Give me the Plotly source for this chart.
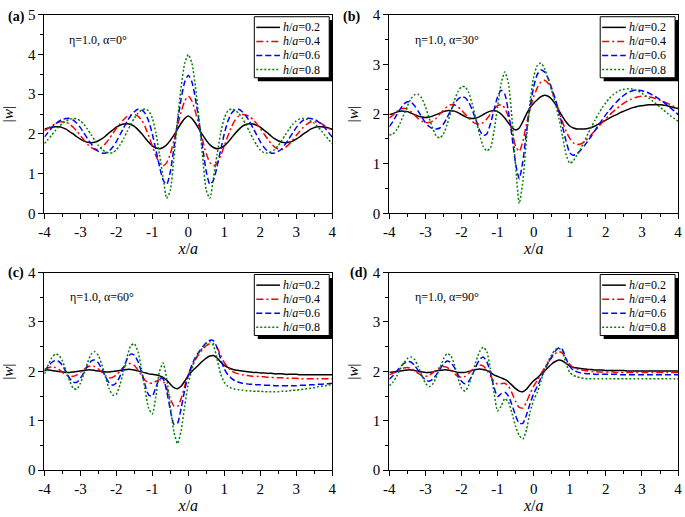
import plotly.graph_objects as go

W, H = 685, 517
FONT = "Liberation Serif, Times New Roman, serif"

# x sample positions (step 0.1 from -4 to 4)
x_vals = [round(-4 + 0.1 * i, 1) for i in range(81)]

series_names = ["<i>h</i>/<i>a</i>=0.2", "<i>h</i>/<i>a</i>=0.4",
                "<i>h</i>/<i>a</i>=0.6", "<i>h</i>/<i>a</i>=0.8"]
panel_labels = ["(a)", "(b)", "(c)", "(d)"]
panel_params = ["η=1.0, α=0°", "η=1.0, α=30°", "η=1.0, α=60°", "η=1.0, α=90°"]
y_max = [5, 4, 4, 4]
x_tickvals = [-4, -3, -2, -1, 0, 1, 2, 3, 4]
x_ticktext = ["-4", "-3", "-2", "-1", "0", "1", "2", "3", "4"]

# ---------------- panel (a): alpha = 0 ----------------
a_h02 = [2.12,2.15,2.17,2.18,2.18,2.16,2.12,2.06,2.00,1.93,1.87,1.82,1.79,1.78,1.79,1.83,1.88,1.95,2.03,2.10,
         2.17,2.22,2.25,2.26,2.24,2.19,2.11,2.01,1.90,1.79,1.70,1.65,1.63,1.66,1.73,1.84,1.97,2.12,2.27,2.39,
         2.45,
         2.39,2.27,2.12,1.97,1.84,1.73,1.66,1.63,1.65,1.70,1.79,1.90,2.01,2.11,2.19,2.24,2.26,2.25,2.22,2.17,
         2.10,2.03,1.95,1.88,1.83,1.79,1.78,1.79,1.82,1.87,1.93,2.00,2.06,2.12,2.16,2.18,2.18,2.17,2.15,2.12]
a_h04 = [2.08,2.14,2.20,2.26,2.30,2.31,2.30,2.25,2.17,2.07,1.96,1.85,1.74,1.66,1.61,1.62,1.67,1.76,1.88,2.01,
         2.14,2.26,2.36,2.44,2.48,2.49,2.45,2.35,2.18,1.95,1.70,1.45,1.27,1.20,1.28,1.50,1.84,2.20,2.55,2.83,
         2.95,
         2.83,2.55,2.20,1.84,1.50,1.28,1.20,1.27,1.45,1.70,1.95,2.18,2.35,2.45,2.49,2.48,2.44,2.36,2.26,2.14,
         2.01,1.88,1.76,1.67,1.62,1.61,1.66,1.74,1.85,1.96,2.07,2.17,2.25,2.30,2.31,2.30,2.26,2.20,2.14,2.08]
a_h06 = [1.92,2.04,2.15,2.25,2.32,2.37,2.39,2.39,2.35,2.27,2.16,2.02,1.88,1.75,1.63,1.56,1.52,1.52,1.57,1.67,
         1.81,1.98,2.15,2.32,2.46,2.56,2.62,2.61,2.52,2.32,2.00,1.60,1.18,0.84,0.73,1.05,1.65,2.30,2.88,3.31,
         3.48,
         3.31,2.88,2.30,1.65,1.05,0.73,0.84,1.18,1.60,2.00,2.32,2.52,2.61,2.62,2.56,2.46,2.32,2.15,1.98,1.81,
         1.67,1.57,1.52,1.52,1.56,1.63,1.75,1.88,2.02,2.16,2.27,2.35,2.39,2.39,2.37,2.32,2.25,2.15,2.04,1.92]
a_h08 = [1.76,1.86,1.97,2.08,2.18,2.27,2.33,2.37,2.39,2.38,2.33,2.24,2.12,1.98,1.84,1.71,1.61,1.55,1.52,1.53,
         1.60,1.72,1.88,2.06,2.24,2.40,2.52,2.60,2.63,2.58,2.40,2.02,1.48,0.90,0.38,0.58,1.40,2.35,3.18,3.78,
         4.00,
         3.78,3.18,2.35,1.40,0.58,0.38,0.90,1.48,2.02,2.40,2.58,2.63,2.60,2.52,2.40,2.24,2.06,1.88,1.72,1.60,
         1.53,1.52,1.55,1.61,1.71,1.84,1.98,2.12,2.24,2.33,2.38,2.39,2.37,2.33,2.27,2.18,2.08,1.97,1.86,1.76]

# ---------------- panel (b): alpha = 30 ----------------
b_h02 = [1.99,2.01,2.04,2.06,2.06,2.05,2.02,1.99,1.96,1.94,
         1.93,1.94,1.96,1.99,2.02,2.05,2.07,2.07,2.06,2.03,
         1.99,1.95,1.92,1.91,1.92,1.95,1.99,2.03,2.06,2.07,
         2.05,2.00,1.92,1.82,1.73,1.68,1.72,1.85,2.00,2.13,
         2.22,2.29,2.35,2.38,2.36,2.30,2.20,2.07,1.95,1.84,
         1.76,1.72,1.70,1.70,1.70,1.71,1.73,1.76,1.80,1.84,
         1.88,1.92,1.96,1.99,2.03,2.06,2.09,2.12,2.14,2.16,
         2.17,2.18,2.19,2.19,2.19,2.19,2.18,2.17,2.15,2.13,
         2.11]
b_h04 = [1.92,1.98,2.05,2.10,2.12,2.10,2.05,1.98,1.91,1.86,
         1.83,1.83,1.86,1.92,2.00,2.08,2.15,2.19,2.19,2.15,
         2.08,2.00,1.92,1.85,1.81,1.80,1.83,1.90,2.00,2.10,
         2.17,2.19,2.12,1.94,1.65,1.35,1.25,1.45,1.80,2.10,
         2.35,2.53,2.65,2.68,2.62,2.48,2.28,2.06,1.84,1.65,
         1.51,1.42,1.39,1.40,1.44,1.51,1.59,1.67,1.75,1.83,
         1.91,1.98,2.05,2.11,2.17,2.22,2.27,2.30,2.33,2.35,
         2.36,2.36,2.35,2.33,2.31,2.28,2.25,2.22,2.19,2.15,
         2.12]
b_h06 = [1.75,1.85,1.98,2.10,2.20,2.25,2.24,2.17,2.06,1.94,
         1.83,1.75,1.71,1.70,1.72,1.80,1.93,2.07,2.20,2.30,
         2.35,2.33,2.24,2.08,1.88,1.68,1.57,1.60,1.80,2.08,
         2.35,2.48,2.40,2.05,1.55,1.00,0.70,1.05,1.65,2.15,
         2.55,2.80,2.89,2.85,2.72,2.52,2.30,2.05,1.75,1.45,
         1.22,1.17,1.20,1.27,1.36,1.46,1.56,1.67,1.78,1.89,
         1.99,2.08,2.17,2.25,2.32,2.38,2.43,2.46,2.48,2.48,
         2.47,2.45,2.42,2.38,2.34,2.29,2.24,2.18,2.12,2.06,
         1.99]
b_h08 = [1.58,1.60,1.68,1.82,1.99,2.16,2.31,2.39,2.40,2.32,
         2.15,1.93,1.72,1.56,1.52,1.60,1.79,2.03,2.27,2.45,
         2.55,2.55,2.43,2.20,1.90,1.59,1.35,1.26,1.32,1.65,
         2.15,2.62,2.85,2.62,1.90,0.95,0.20,0.65,1.50,2.25,
         2.75,2.98,3.03,2.92,2.72,2.48,2.22,1.92,1.55,1.18,
         1.01,1.06,1.18,1.30,1.45,1.60,1.74,1.88,2.01,2.13,
         2.23,2.32,2.39,2.44,2.48,2.50,2.51,2.51,2.49,2.46,
         2.42,2.37,2.32,2.26,2.20,2.14,2.08,2.02,1.96,1.91,
         1.86]

# ---------------- panel (c): alpha = 60 ----------------
c_h02 = [2.03,2.03,2.02,2.01,2.00,1.99,1.98,1.98,1.99,2.00,
         2.01,2.02,2.03,2.03,2.02,2.01,2.00,1.99,1.99,2.00,
         2.01,2.02,2.03,2.04,2.04,2.03,2.01,1.99,1.97,1.95,
         1.94,1.93,1.91,1.88,1.82,1.74,1.67,1.65,1.70,1.80,
         1.92,2.00,2.07,2.14,2.21,2.27,2.31,2.32,2.27,2.19,
         2.12,2.08,2.05,2.03,2.02,2.01,2.00,1.99,1.98,1.98,
         1.97,1.97,1.96,1.96,1.95,1.95,1.95,1.94,1.94,1.94,
         1.94,1.93,1.93,1.93,1.93,1.93,1.93,1.93,1.93,1.93,
         1.93]
c_h04 = [2.04,2.07,2.09,2.08,2.04,1.98,1.93,1.90,1.90,1.93,
         1.98,2.04,2.09,2.11,2.10,2.05,1.98,1.91,1.87,1.88,
         1.93,2.01,2.09,2.15,2.16,2.12,2.03,1.92,1.82,1.77,
         1.76,1.80,1.83,1.80,1.66,1.45,1.30,1.29,1.45,1.70,
         1.93,2.10,2.24,2.35,2.45,2.52,2.56,2.56,2.48,2.33,
         2.18,2.08,2.01,1.97,1.95,1.93,1.92,1.91,1.90,1.90,
         1.89,1.89,1.88,1.88,1.87,1.87,1.87,1.86,1.86,1.86,
         1.86,1.85,1.85,1.85,1.85,1.85,1.85,1.85,1.85,1.85,
         1.85]
c_h06 = [2.00,2.10,2.18,2.22,2.20,2.12,1.99,1.86,1.78,1.78,
         1.86,1.98,2.11,2.21,2.23,2.17,2.04,1.89,1.77,1.72,
         1.77,1.90,2.08,2.25,2.35,2.33,2.20,1.98,1.72,1.52,
         1.50,1.68,1.86,1.85,1.60,1.22,0.93,0.95,1.25,1.62,
         1.92,2.13,2.29,2.40,2.50,2.58,2.63,2.62,2.48,2.25,
         2.05,1.93,1.86,1.81,1.78,1.76,1.75,1.74,1.74,1.73,
         1.73,1.72,1.72,1.72,1.71,1.71,1.71,1.71,1.71,1.71,
         1.71,1.72,1.72,1.72,1.73,1.73,1.74,1.74,1.75,1.75,
         1.76]
c_h08 = [1.95,2.12,2.27,2.35,2.33,2.21,2.02,1.81,1.66,1.64,
         1.76,1.96,2.18,2.35,2.40,2.32,2.13,1.88,1.65,1.52,
         1.54,1.73,2.00,2.30,2.52,2.56,2.40,2.05,1.62,1.25,
         1.14,1.50,2.00,2.17,1.85,1.30,0.78,0.54,0.80,1.30,
         1.75,2.05,2.25,2.38,2.48,2.57,2.60,2.52,2.25,1.95,
         1.78,1.70,1.66,1.64,1.63,1.62,1.61,1.61,1.60,1.60,
         1.60,1.59,1.59,1.59,1.59,1.59,1.60,1.60,1.61,1.62,
         1.62,1.63,1.64,1.65,1.66,1.67,1.69,1.70,1.71,1.72,
         1.74]

# ---------------- panel (d): alpha = 90 ----------------
d_h02 = [1.98,1.99,2.00,2.01,2.02,2.03,2.03,2.02,2.00,1.99,
         1.98,1.98,1.99,2.01,2.02,2.03,2.03,2.02,2.00,1.98,
         1.98,1.98,2.00,2.02,2.04,2.05,2.04,2.02,1.98,1.93,
         1.90,1.87,1.84,1.79,1.72,1.65,1.60,1.59,1.64,1.73,
         1.81,1.87,1.94,2.01,2.08,2.15,2.20,2.23,2.21,2.16,
         2.11,2.08,2.07,2.06,2.05,2.04,2.04,2.03,2.03,2.03,
         2.02,2.02,2.02,2.02,2.02,2.02,2.01,2.01,2.01,2.01,
         2.01,2.01,2.01,2.01,2.01,2.01,2.01,2.01,2.01,2.01,
         2.01]
d_h04 = [1.93,1.96,2.00,2.04,2.07,2.08,2.06,2.01,1.96,1.92,
         1.90,1.92,1.97,2.03,2.08,2.10,2.08,2.03,1.96,1.90,
         1.88,1.90,1.96,2.04,2.10,2.13,2.11,2.03,1.91,1.80,
         1.74,1.75,1.76,1.70,1.56,1.39,1.27,1.26,1.38,1.55,
         1.70,1.82,1.95,2.07,2.18,2.28,2.36,2.40,2.37,2.25,
         2.14,2.08,2.05,2.03,2.02,2.01,2.00,2.00,1.99,1.99,
         1.99,1.99,1.99,1.98,1.98,1.98,1.98,1.98,1.98,1.98,
         1.98,1.98,1.98,1.98,1.98,1.98,1.98,1.98,1.98,1.98,
         1.98]
d_h06 = [1.84,1.91,2.00,2.09,2.16,2.20,2.19,2.12,2.02,1.91,
         1.83,1.80,1.84,1.93,2.04,2.15,2.21,2.18,2.08,1.94,
         1.80,1.75,1.80,1.93,2.10,2.24,2.29,2.20,1.98,1.68,
         1.49,1.55,1.58,1.50,1.32,1.10,0.95,0.95,1.12,1.35,
         1.55,1.70,1.86,2.02,2.17,2.30,2.41,2.48,2.44,2.25,
         2.10,2.02,1.99,1.97,1.96,1.95,1.95,1.94,1.94,1.94,
         1.94,1.94,1.94,1.94,1.93,1.93,1.93,1.93,1.93,1.93,
         1.93,1.93,1.93,1.93,1.93,1.93,1.93,1.93,1.93,1.93,
         1.93]
d_h08 = [1.71,1.78,1.90,2.04,2.17,2.26,2.29,2.24,2.10,1.92,
         1.76,1.69,1.74,1.88,2.07,2.25,2.36,2.32,2.14,1.88,
         1.66,1.60,1.72,1.95,2.20,2.40,2.49,2.40,2.05,1.58,
         1.20,1.30,1.45,1.38,1.15,0.88,0.70,0.63,0.82,1.18,
         1.42,1.58,1.80,2.03,2.20,2.34,2.44,2.47,2.38,2.15,
         1.98,1.92,1.89,1.87,1.86,1.85,1.85,1.85,1.85,1.85,
         1.85,1.85,1.85,1.85,1.85,1.85,1.85,1.85,1.85,1.85,
         1.85,1.85,1.85,1.85,1.85,1.85,1.85,1.85,1.85,1.85,
         1.85]

panels = [
    [a_h02, a_h04, a_h06, a_h08],
    [b_h02, b_h04, b_h06, b_h08],
    [c_h02, c_h04, c_h06, c_h08],
    [d_h02, d_h04, d_h06, d_h08],
]

# ---------------- styling ----------------
line_colors = ["#000000", "#FF0000", "#0000FF", "#008000"]
line_dashes = ["solid", "7px,3px,2px,3px", "6px,3px", "2px,2px"]

# plot area boxes in pixels: (left, top, right, bottom)
boxes = [(39, 7, 331, 212), (389, 7, 682, 212),
         (39, 273, 331, 477), (389, 273, 682, 477)]
label_pos = [(0, 9), (340, 9), (0, 273), (347, 273)]
param_pos = [(62, 33), (413, 33), (63, 298), (413, 298)]

# legend box geometry (pixels, relative to the plot area's top-right corner)
LEG_RIGHT_GAP, LEG_TOP_GAP, LEG_W, LEG_H = 3, 2, 76, 63
LEG_ROW0, LEG_ROW_STEP = 11, 14.5
LEG_LINE_X0, LEG_LINE_X1, LEG_TEXT_X = 2, 26, 29
SHADOW = 3.5


def px_x(px):
    return px / W


def px_y(py):
    return 1 - py / H


fig = go.Figure()
layout = dict(
    width=W, height=H,
    margin=dict(l=0, r=0, t=0, b=0),
    paper_bgcolor="white", plot_bgcolor="white",
    font=dict(family=FONT, color="black", size=15),
    showlegend=False,
    annotations=[], shapes=[],
)

for p in range(4):
    sfx = "" if p == 0 else str(p + 1)
    xa, ya = "x" + sfx, "y" + sfx
    l, t, r, b = boxes[p]
    for k in range(4):
        fig.add_trace(go.Scatter(
            x=x_vals, y=panels[p][k], mode="lines", name=series_names[k],
            line=dict(color=line_colors[k], width=1.5, dash=line_dashes[k],
                      shape="spline", smoothing=0.6),
            xaxis=xa, yaxis=ya,
        ))
    axis_common = dict(
        showline=True, linecolor="black", linewidth=1, mirror=True,
        ticks="outside", ticklen=5, tickwidth=1, tickcolor="black",
        showgrid=False, zeroline=False,
        tickfont=dict(family=FONT, size=15, color="black"),
        minor=dict(ticks="outside", ticklen=3, tickwidth=1, tickcolor="black", dtick=0.5),
    )
    layout["xaxis" + sfx] = dict(
        axis_common, domain=[px_x(l), px_x(r)], range=[-4, 4], anchor=ya,
        tickmode="array", tickvals=x_tickvals, ticktext=x_ticktext,
        title=dict(text="<i>x</i>/<i>a</i>", font=dict(family=FONT, size=16), standoff=3),
    )
    layout["yaxis" + sfx] = dict(
        axis_common, domain=[px_y(b), px_y(t)], range=[0, y_max[p]], anchor=xa,
        dtick=1, tick0=0,
        title=dict(text="|<i>w</i>|", font=dict(family=FONT, size=15), standoff=10),
    )

    # ---- legend (box with drop shadow, line samples and labels) ----
    lr = r - LEG_RIGHT_GAP
    ll = lr - LEG_W
    lt = t + LEG_TOP_GAP
    lb = lt + LEG_H
    layout["shapes"].append(dict(
        type="rect", xref="paper", yref="paper", layer="above",
        x0=px_x(ll + SHADOW), x1=px_x(lr + SHADOW),
        y0=px_y(lb + SHADOW), y1=px_y(lt + SHADOW),
        fillcolor="black", line=dict(width=0),
    ))
    layout["shapes"].append(dict(
        type="rect", xref="paper", yref="paper", layer="above",
        x0=px_x(ll), x1=px_x(lr), y0=px_y(lb), y1=px_y(lt),
        fillcolor="white", line=dict(color="black", width=1),
    ))
    for k in range(4):
        ry = lt + LEG_ROW0 + k * LEG_ROW_STEP
        layout["shapes"].append(dict(
            type="line", xref="paper", yref="paper", layer="above",
            x0=px_x(ll + LEG_LINE_X0), x1=px_x(ll + LEG_LINE_X1),
            y0=px_y(ry), y1=px_y(ry),
            line=dict(color=line_colors[k], width=1.5, dash=line_dashes[k]),
        ))
        layout["annotations"].append(dict(
            text=series_names[k], xref="paper", yref="paper",
            x=px_x(ll + LEG_TEXT_X), y=px_y(ry), xanchor="left", yanchor="middle",
            showarrow=False, borderpad=0, borderwidth=0,
            font=dict(family=FONT, size=12, color="black"),
        ))

    lx, ly = label_pos[p]
    layout["annotations"].append(dict(
        text="<b>" + panel_labels[p] + "</b>", xref="paper", yref="paper",
        x=px_x(lx), y=px_y(ly), xanchor="left", yanchor="middle", showarrow=False,
        font=dict(family=FONT, size=14, color="black"),
    ))
    qx, qy = param_pos[p]
    layout["annotations"].append(dict(
        text=panel_params[p], xref="paper", yref="paper",
        x=px_x(qx), y=px_y(qy), xanchor="left", yanchor="middle", showarrow=False,
        font=dict(family=FONT, size=12, color="black"),
    ))

fig.update_layout(**layout)
fig.write_html(
    "out.html",
    config={"displayModeBar": False},
    post_script="document.body.style.margin='0';document.body.style.overflow='hidden';",
)
